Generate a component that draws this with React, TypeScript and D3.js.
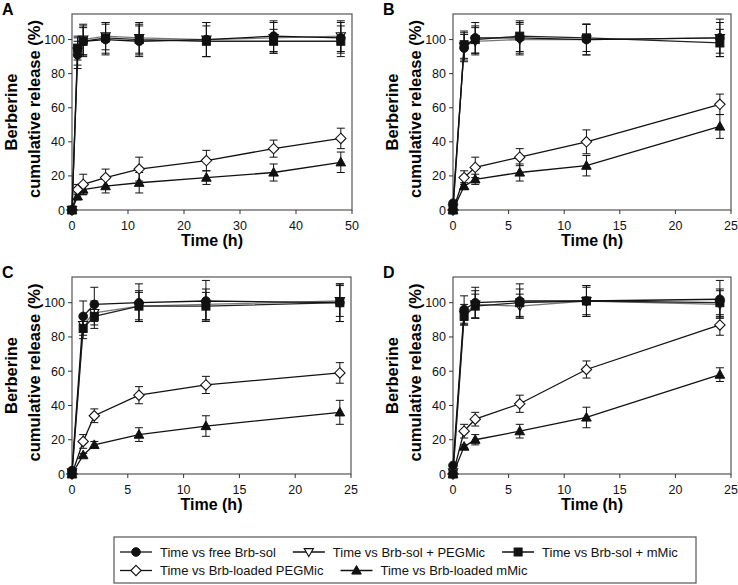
import React from "react";
import * as d3 from "d3";

const seriesNames = [
  "Time vs free Brb-sol",
  "Time vs Brb-sol + PEGMic",
  "Time vs Brb-sol + mMic",
  "Time vs Brb-loaded PEGMic",
  "Time vs Brb-loaded mMic",
];
const seriesSymbols = ["circle", "triDown", "square", "diamond", "triUp"];

const timesA = [0, 1, 2, 6, 12, 24, 36, 48];
const timesBCD = [0, 1, 2, 6, 12, 24];

// Panel A
const aFree = [0, 91, 99, 100, 99, 100, 102, 101];
const aFreeErr = [0, 8, 9, 9, 9, 10, 9, 9];
const aPeg = [0, 93, 100, 102, 101, 100, 101, 102];
const aPegErr = [0, 8, 9, 8, 9, 10, 9, 9];
const aMic = [0, 95, 99, 101, 100, 99, 99, 99];
const aMicErr = [0, 7, 8, 9, 9, 9, 7, 9];
const aLPeg = [0, 12, 15, 19, 24, 29, 36, 42];
const aLPegErr = [0, 3, 6, 5, 7, 6, 5, 6];
const aLMic = [0, 8, 12, 14, 16, 19, 22, 28];
const aLMicErr = [0, 2, 3, 4, 6, 4, 5, 6];

// Panel B
const bFree = [4, 95, 101, 101, 100, 101];
const bFreeErr = [0, 8, 9, 9, 9, 11];
const bPeg = [1, 96, 99, 100, 100, 101];
const bPegErr = [0, 8, 8, 9, 9, 9];
const bMic = [0, 97, 100, 102, 101, 98];
const bMicErr = [0, 8, 8, 9, 8, 8];
const bLPeg = [0, 19, 25, 31, 40, 62];
const bLPegErr = [0, 4, 6, 5, 7, 6];
const bLMic = [0, 14, 18, 22, 26, 49];
const bLMicErr = [0, 2, 3, 5, 6, 7];

// Panel C
const cFree = [2, 92, 99, 100, 101, 100];
const cFreeErr = [0, 9, 10, 11, 12, 11];
const cPeg = [1, 87, 94, 98, 99, 101];
const cPegErr = [0, 6, 7, 9, 9, 9];
const cMic = [0, 85, 92, 98, 98, 100];
const cMicErr = [0, 6, 7, 8, 8, 11];
const cLPeg = [0, 19, 34, 46, 52, 59];
const cLPegErr = [0, 4, 4, 5, 5, 6];
const cLMic = [0, 11, 17, 23, 28, 36];
const cLMicErr = [0, 1, 2, 4, 6, 7];

// Panel D
const dFree = [5, 96, 100, 101, 101, 102];
const dFreeErr = [0, 8, 9, 10, 9, 11];
const dPeg = [1, 93, 99, 98, 101, 99];
const dPegErr = [0, 6, 8, 7, 8, 8];
const dMic = [0, 92, 98, 100, 101, 100];
const dMicErr = [0, 5, 7, 8, 9, 8];
const dLPeg = [0, 25, 32, 41, 61, 87];
const dLPegErr = [0, 4, 4, 5, 5, 6];
const dLMic = [0, 16, 20, 25, 33, 58];
const dLMicErr = [0, 1, 3, 4, 6, 4];

const yTicks = [0, 20, 40, 60, 80, 100];
const xTicksA = [0, 10, 20, 30, 40, 50];
const xTicksBCD = [0, 5, 10, 15, 20, 25];

type Panel = {
  label: string;
  times: number[];
  xMax: number;
  xTicks: number[];
  vals: number[][];
  errs: number[][];
  box: { l: number; r: number; t: number; b: number };
};

const panels: Panel[] = [
  {
    label: "A",
    times: timesA,
    xMax: 50,
    xTicks: xTicksA,
    vals: [aFree, aPeg, aMic, aLPeg, aLMic],
    errs: [aFreeErr, aPegErr, aMicErr, aLPegErr, aLMicErr],
    box: { l: 72, r: 352, t: 14, b: 210 },
  },
  {
    label: "B",
    times: timesBCD,
    xMax: 25,
    xTicks: xTicksBCD,
    vals: [bFree, bPeg, bMic, bLPeg, bLMic],
    errs: [bFreeErr, bPegErr, bMicErr, bLPegErr, bLMicErr],
    box: { l: 453, r: 731, t: 14, b: 210 },
  },
  {
    label: "C",
    times: timesBCD,
    xMax: 25,
    xTicks: xTicksBCD,
    vals: [cFree, cPeg, cMic, cLPeg, cLMic],
    errs: [cFreeErr, cPegErr, cMicErr, cLPegErr, cLMicErr],
    box: { l: 72, r: 351, t: 277, b: 474 },
  },
  {
    label: "D",
    times: timesBCD,
    xMax: 25,
    xTicks: xTicksBCD,
    vals: [dFree, dPeg, dMic, dLPeg, dLMic],
    errs: [dFreeErr, dPegErr, dMicErr, dLPegErr, dLMicErr],
    box: { l: 453, r: 731, t: 277, b: 474 },
  },
];

const FONT = "'Liberation Sans', Arial, Helvetica, sans-serif";

function Marker({ kind, x, y }: { kind: string; x: number; y: number }) {
  if (kind === "circle")
    return <circle cx={x} cy={y} r={4.3} fill="#111" stroke="#111" strokeWidth={1} />;
  if (kind === "square")
    return <rect x={x - 4} y={y - 4} width={8} height={8} fill="#111" stroke="#111" strokeWidth={1} />;
  if (kind === "diamond")
    return (
      <path
        d={`M${x},${y - 5.2}L${x + 5.2},${y}L${x},${y + 5.2}L${x - 5.2},${y}Z`}
        fill="#fff"
        stroke="#111"
        strokeWidth={1.1}
      />
    );
  if (kind === "triUp")
    return (
      <path
        d={`M${x},${y - 5}L${x + 4.8},${y + 3.6}L${x - 4.8},${y + 3.6}Z`}
        fill="#111"
        stroke="#111"
        strokeWidth={1}
      />
    );
  return (
    <path
      d={`M${x},${y + 4.6}L${x + 4.6},${y - 3.4}L${x - 4.6},${y - 3.4}Z`}
      fill="#fff"
      stroke="#111"
      strokeWidth={1.1}
    />
  );
}

function PanelView({ p }: { p: Panel }) {
  const { l, r, t, b } = p.box;
  const x = d3.scaleLinear().domain([0, p.xMax]).range([l, r]);
  const y = d3.scaleLinear().domain([0, 115]).range([b, t]);
  const line = d3
    .line<[number, number]>()
    .x((d) => x(d[0]))
    .y((d) => y(d[1]));
  const order = [4, 3, 1, 2, 0];
  const lineColors = ["#111", "#777", "#222", "#111", "#111"];
  const cy = (t + b) / 2;
  return (
    <g>
      <rect x={l} y={t} width={r - l} height={b - t} fill="none" stroke="#555" strokeWidth={1.2} />
      {yTicks.map((v) => (
        <g key={"y" + v}>
          <line x1={l - 4} x2={l} y1={y(v)} y2={y(v)} stroke="#333" strokeWidth={1} />
          <text x={l - 7} y={y(v)} dy="0.36em" textAnchor="end" fontSize={12.5} fontFamily={FONT} fill="#111">
            {v}
          </text>
        </g>
      ))}
      {p.xTicks.map((v) => (
        <g key={"x" + v}>
          <line x1={x(v)} x2={x(v)} y1={b} y2={b + 4} stroke="#333" strokeWidth={1} />
          <text x={x(v)} y={b + 20} textAnchor="middle" fontSize={12.5} fontFamily={FONT} fill="#111">
            {v}
          </text>
        </g>
      ))}
      <text x={(l + r) / 2} y={b + 36} textAnchor="middle" fontSize={16} fontWeight="bold" fontFamily={FONT}>
        Time (h)
      </text>
      <text
        transform={`translate(${l - 55.5},${cy}) rotate(-90)`}
        textAnchor="middle"
        fontSize={16.5}
        fontWeight="bold"
        fontFamily={FONT}
      >
        Berberine
      </text>
      <text
        transform={`translate(${l - 32},${cy - 3}) rotate(-90)`}
        textAnchor="middle"
        fontSize={16.5}
        fontWeight="bold"
        fontFamily={FONT}
      >
        cumulative release (%)
      </text>
      <text x={l - 70} y={t + 0.5} fontSize={16} fontWeight="bold" fontFamily={FONT}>
        {p.label}
      </text>
      {order.map((si) => {
        const pts: [number, number][] = p.times.map((tm, i) => [tm, p.vals[si][i]]);
        return (
          <g key={"s" + si}>
            {p.times.map((tm, i) => {
              const e = p.errs[si][i];
              if (!e) return null;
              const v = p.vals[si][i];
              const xx = x(tm);
              return (
                <g key={"e" + i} stroke="#111" strokeWidth={1}>
                  <line x1={xx} x2={xx} y1={y(v - e)} y2={y(v + e)} />
                  <line x1={xx - 4} x2={xx + 4} y1={y(v - e)} y2={y(v - e)} />
                  <line x1={xx - 4} x2={xx + 4} y1={y(v + e)} y2={y(v + e)} />
                </g>
              );
            })}
            <path d={line(pts) || ""} fill="none" stroke={lineColors[si]} strokeWidth={1.3} />
            {pts.map((d, i) => (
              <Marker key={"m" + i} kind={seriesSymbols[si]} x={x(d[0])} y={y(d[1])} />
            ))}
          </g>
        );
      })}
    </g>
  );
}

const legendRows = [
  [0, 1, 2],
  [3, 4],
];

function measure(s: string) {
  if (typeof document === "undefined") return s.length * 6.5;
  const c = document.createElement("canvas").getContext("2d");
  if (!c) return s.length * 6.5;
  c.font = `13px ${FONT}`;
  return c.measureText(s).width;
}

function Legend() {
  const left = 114;
  const right = 696;
  const top = 537;
  const bottom = 583;
  const rowY = [552, 570.5];
  return (
    <g>
      <rect x={left} y={top} width={right - left} height={bottom - top} fill="#fff" stroke="#555" strokeWidth={1.2} />
      {legendRows.map((row, ri) => {
        let cx = 120;
        return row.map((si) => {
          const mx = cx;
          const tx = mx + 40;
          const g = (
            <g key={"l" + si}>
              <line x1={mx} x2={mx + 32} y1={rowY[ri]} y2={rowY[ri]} stroke="#111" strokeWidth={1.3} />
              <Marker kind={seriesSymbols[si]} x={mx + 16} y={rowY[ri]} />
              <text x={tx} y={rowY[ri]} dy="0.36em" fontSize={13} fontFamily={FONT} fill="#111">
                {seriesNames[si]}
              </text>
            </g>
          );
          cx = tx + measure(seriesNames[si]) + 17;
          return g;
        });
      })}
    </g>
  );
}

export default function App() {
  return (
    <svg
      width={738}
      height={585}
      style={{ position: "absolute", left: 0, top: 0, background: "#fff" }}
    >
      <rect width={738} height={585} fill="#fff" />
      {panels.map((p) => (
        <PanelView key={p.label} p={p} />
      ))}
      <Legend />
    </svg>
  );
}
